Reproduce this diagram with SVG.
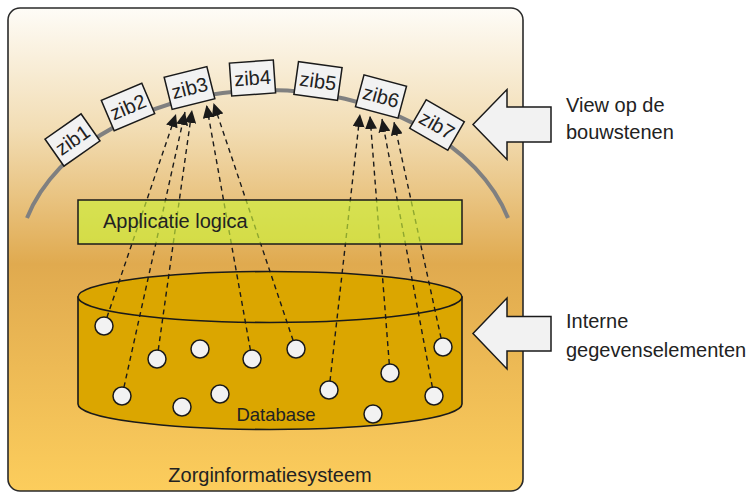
<svg xmlns="http://www.w3.org/2000/svg" width="752" height="493" viewBox="0 0 752 493">
  <defs>
    <linearGradient id="bg" x1="0" y1="0" x2="0" y2="1">
      <stop offset="0" stop-color="#fefcf7"/>
      <stop offset="0.25" stop-color="#f2ddb4"/>
      <stop offset="0.53" stop-color="#e0aa4f"/>
      <stop offset="1" stop-color="#fccd5c"/>
    </linearGradient>
    <marker id="ah" markerUnits="userSpaceOnUse" markerWidth="14" markerHeight="12" refX="13" refY="6" orient="auto">
      <path d="M0,0 L13,6 L0,12 Z" fill="#1a1a1a"/>
    </marker>
    <style>
      text { font-family: "Liberation Sans", Arial, sans-serif; fill: #222; }
      .zib rect { fill: #f2f2f2; stroke: #1a1a1a; stroke-width: 1.5; }
      .zib text { font-size: 20px; text-anchor: middle; }
      .dot { fill: #f2f2f2; stroke: #1a1a1a; stroke-width: 1.5; }
      .conn line { stroke: #1a1a1a; stroke-width: 1.4; stroke-dasharray: 5 4; fill: none; marker-end: url(#ah); }
      .blk { fill: #f2f2f2; stroke: #1a1a1a; stroke-width: 1.5; }
      .lbl { font-size: 20px; }
    </style>
  </defs>

  <g id="zorginformatiesysteem">
    <rect x="8" y="8" width="515" height="483" rx="12" fill="url(#bg)" stroke="#2a2a2a" stroke-width="1.6"/>
    <text x="270" y="482" font-size="20" text-anchor="middle">Zorginformatiesysteem</text>
  </g>

  <g id="view-arc">
    <path d="M27,218 A250,176 0 0 1 508,218" fill="none" stroke="#808080" stroke-width="4"/>
  </g>

  <g id="database">
    <path d="M78,297 L78,404 A192,25.5 0 0 0 462,404 L462,297 Z" fill="#dba600" stroke="#1a1a1a" stroke-width="1.6"/>
    <ellipse cx="270" cy="297" rx="192" ry="25.5" fill="#dba600" stroke="#1a1a1a" stroke-width="1.6"/>
    <text x="276" y="421" font-size="18.5" text-anchor="middle">Database</text>
  </g>

  <g id="connectors" class="conn">
    <line x1="104" y1="326" x2="176" y2="114"/>
    <line x1="122" y1="396" x2="185" y2="112"/>
    <line x1="157" y1="359" x2="192" y2="110"/>
    <line x1="252" y1="359" x2="206.5" y2="105"/>
    <line x1="296" y1="349" x2="213.5" y2="103"/>
    <line x1="329" y1="390" x2="360" y2="114"/>
    <line x1="390" y1="373" x2="370" y2="116"/>
    <line x1="434" y1="396" x2="382" y2="119"/>
    <line x1="443" y1="347" x2="394" y2="122"/>
  </g>

  <g id="elements">
    <circle class="dot" cx="104" cy="326" r="9"/>
    <circle class="dot" cx="157" cy="359" r="9"/>
    <circle class="dot" cx="200" cy="349" r="9"/>
    <circle class="dot" cx="252" cy="359" r="9"/>
    <circle class="dot" cx="296" cy="349" r="9"/>
    <circle class="dot" cx="443" cy="347" r="9"/>
    <circle class="dot" cx="390" cy="373" r="9"/>
    <circle class="dot" cx="122" cy="396" r="9"/>
    <circle class="dot" cx="182" cy="407" r="9"/>
    <circle class="dot" cx="220" cy="394" r="9"/>
    <circle class="dot" cx="329" cy="390" r="9"/>
    <circle class="dot" cx="373" cy="414" r="9"/>
    <circle class="dot" cx="434" cy="396" r="9"/>
  </g>

  <g id="applicatie-logica">
    <rect x="78" y="200" width="384" height="44" fill="#cdf33a" fill-opacity="0.65" stroke="#1a1a1a" stroke-width="1.5"/>
    <text x="103" y="228" font-size="20">Applicatie logica</text>
  </g>

  <g id="zib1" class="zib" transform="translate(72.5,140) rotate(-35)">
    <rect x="-22" y="-16.5" width="44" height="33"/>
    <text x="0" y="7">zib1</text>
  </g>
  <g id="zib2" class="zib" transform="translate(128,107) rotate(-23)">
    <rect x="-22" y="-16.5" width="44" height="33"/>
    <text x="0" y="7">zib2</text>
  </g>
  <g id="zib3" class="zib" transform="translate(189.5,88) rotate(-14)">
    <rect x="-22" y="-16.5" width="44" height="33"/>
    <text x="0" y="7">zib3</text>
  </g>
  <g id="zib4" class="zib" transform="translate(252.5,78) rotate(-4)">
    <rect x="-22" y="-16.5" width="44" height="33"/>
    <text x="0" y="7">zib4</text>
  </g>
  <g id="zib5" class="zib" transform="translate(318,81) rotate(8)">
    <rect x="-22" y="-16.5" width="44" height="33"/>
    <text x="0" y="7">zib5</text>
  </g>
  <g id="zib6" class="zib" transform="translate(381,96.5) rotate(15)">
    <rect x="-22" y="-16.5" width="44" height="33"/>
    <text x="0" y="7">zib6</text>
  </g>
  <g id="zib7" class="zib" transform="translate(437,125) rotate(30)">
    <rect x="-22" y="-16.5" width="44" height="33"/>
    <text x="0" y="7">zib7</text>
  </g>

  <g id="view-arrow">
    <path class="blk" d="M473,124.5 L507,89.5 L507,107 L551,107 L551,142 L507,142 L507,159.5 Z"/>
    <text class="lbl" x="566" y="112">View op de</text>
    <text class="lbl" x="566" y="139">bouwstenen</text>
  </g>

  <g id="interne-arrow">
    <path class="blk" d="M473,333.5 L507,298 L507,316.5 L551,316.5 L551,351 L507,351 L507,369 Z"/>
    <text class="lbl" x="566" y="328">Interne</text>
    <text class="lbl" x="566" y="357">gegevenselementen</text>
  </g>
</svg>
